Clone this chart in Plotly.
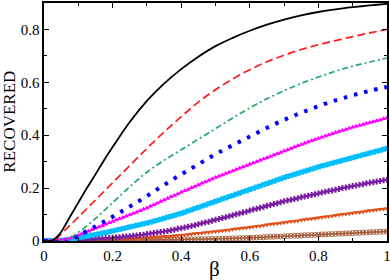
import plotly.graph_objects as go

# ---- line series (beta, recovered) ----
beta_black = [0, 0.02, 0.03, 0.04, 0.05, 0.075, 0.1, 0.125, 0.15, 0.175, 0.2, 0.25, 0.3, 0.35, 0.4, 0.45,
              0.5, 0.55, 0.6, 0.65, 0.7, 0.75, 0.8, 0.85, 0.9, 0.95, 1.0]
rec_black = [0, 0.0, 0.007, 0.018, 0.034, 0.09, 0.145, 0.2, 0.252, 0.305, 0.355, 0.45, 0.53, 0.595, 0.65, 0.697,
             0.737, 0.768, 0.795, 0.818, 0.837, 0.853, 0.866, 0.876, 0.884, 0.891, 0.897]

beta_red = [0, 0.03, 0.04, 0.05, 0.075, 0.1, 0.15, 0.2, 0.25, 0.3, 0.35, 0.4, 0.45, 0.5, 0.55, 0.6, 0.65,
            0.7, 0.75, 0.8, 0.85, 0.9, 0.95, 1.0]
rec_red = [0, 0.003, 0.012, 0.027, 0.058, 0.09, 0.155, 0.22, 0.285, 0.35, 0.412, 0.47, 0.525, 0.572, 0.613,
           0.648, 0.678, 0.703, 0.724, 0.742, 0.758, 0.773, 0.787, 0.80]

beta_green = [0, 0.06, 0.075, 0.1, 0.15, 0.2, 0.25, 0.3, 0.35, 0.4, 0.45, 0.5, 0.55, 0.6, 0.65, 0.7, 0.75,
              0.8, 0.85, 0.9, 0.95, 1.0]
rec_green = [0, 0.0, 0.01, 0.032, 0.085, 0.145, 0.205, 0.26, 0.305, 0.345, 0.385, 0.425, 0.465, 0.503, 0.538,
             0.568, 0.596, 0.62, 0.642, 0.661, 0.677, 0.692]

beta_blue = [0, 0.075, 0.1, 0.15, 0.2, 0.25, 0.3, 0.35, 0.4, 0.45, 0.5, 0.55, 0.6, 0.65, 0.7, 0.75, 0.8,
             0.85, 0.9, 0.95, 1.0]
rec_blue = [0, 0.0, 0.02, 0.055, 0.092, 0.13, 0.17, 0.212, 0.252, 0.29, 0.328, 0.362, 0.395, 0.428, 0.458,
            0.485, 0.51, 0.532, 0.551, 0.568, 0.583]

# ---- marker series, beta = 0, 0.01, ..., 1.00 ----
beta_grid = [i / 100 for i in range(101)]

rec_magenta = [0, 0.000, 0.000, 0.001, 0.002, 0.003, 0.005, 0.008, 0.012, 0.017,
               0.022, 0.027, 0.032, 0.037, 0.043, 0.048, 0.053, 0.058, 0.063, 0.069,
               0.074, 0.079, 0.084, 0.089, 0.094, 0.099, 0.104, 0.109, 0.114, 0.120,
               0.125, 0.131, 0.137, 0.143, 0.149, 0.155, 0.161, 0.167, 0.172, 0.178,
               0.184, 0.190, 0.195, 0.201, 0.206, 0.212, 0.218, 0.223, 0.229, 0.234,
               0.240, 0.245, 0.250, 0.255, 0.260, 0.265, 0.270, 0.275, 0.280, 0.285,
               0.290, 0.295, 0.300, 0.305, 0.310, 0.315, 0.320, 0.325, 0.330, 0.335,
               0.340, 0.345, 0.350, 0.355, 0.360, 0.365, 0.370, 0.374, 0.379, 0.384,
               0.388, 0.392, 0.397, 0.401, 0.406, 0.410, 0.414, 0.418, 0.422, 0.426,
               0.430, 0.434, 0.437, 0.441, 0.444, 0.448, 0.451, 0.455, 0.458, 0.462,
               0.465]

rec_cyan = [0, 0.000, 0.000, 0.000, 0.001, 0.002, 0.003, 0.005, 0.007, 0.009,
            0.012, 0.014, 0.017, 0.019, 0.022, 0.024, 0.027, 0.030, 0.032, 0.035,
            0.038, 0.041, 0.044, 0.047, 0.050, 0.053, 0.056, 0.059, 0.062, 0.065,
            0.068, 0.071, 0.075, 0.078, 0.082, 0.086, 0.090, 0.093, 0.097, 0.101,
            0.105, 0.109, 0.114, 0.118, 0.123, 0.127, 0.132, 0.136, 0.141, 0.145,
            0.150, 0.154, 0.159, 0.163, 0.168, 0.172, 0.177, 0.181, 0.186, 0.190,
            0.195, 0.199, 0.204, 0.208, 0.213, 0.217, 0.222, 0.226, 0.231, 0.235,
            0.240, 0.244, 0.248, 0.252, 0.256, 0.260, 0.264, 0.268, 0.272, 0.276,
            0.280, 0.284, 0.287, 0.291, 0.294, 0.298, 0.301, 0.305, 0.308, 0.312,
            0.315, 0.319, 0.322, 0.326, 0.329, 0.333, 0.336, 0.340, 0.343, 0.347,
            0.350]

rec_purple = [0, 0.000, 0.000, 0.000, 0.001, 0.001, 0.002, 0.002, 0.003, 0.003,
              0.004, 0.005, 0.005, 0.006, 0.007, 0.008, 0.009, 0.009, 0.010, 0.011,
              0.012, 0.013, 0.014, 0.016, 0.017, 0.018, 0.020, 0.021, 0.023, 0.024,
              0.026, 0.028, 0.030, 0.032, 0.034, 0.036, 0.038, 0.041, 0.043, 0.046,
              0.048, 0.051, 0.054, 0.057, 0.060, 0.063, 0.067, 0.070, 0.073, 0.077,
              0.080, 0.083, 0.087, 0.090, 0.094, 0.097, 0.101, 0.104, 0.108, 0.111,
              0.115, 0.119, 0.122, 0.126, 0.129, 0.133, 0.136, 0.140, 0.143, 0.147,
              0.150, 0.153, 0.156, 0.159, 0.162, 0.165, 0.168, 0.171, 0.174, 0.177,
              0.180, 0.183, 0.186, 0.189, 0.191, 0.194, 0.197, 0.200, 0.202, 0.205,
              0.208, 0.210, 0.213, 0.215, 0.218, 0.220, 0.222, 0.225, 0.227, 0.230,
              0.232]

rec_orange = [0, 0, 0, 0, 0.001, 0.001, 0.001, 0.001, 0.001, 0.002,
              0.002, 0.002, 0.002, 0.003, 0.003, 0.003, 0.004, 0.004, 0.004, 0.005,
              0.005, 0.006, 0.006, 0.007, 0.008, 0.008, 0.009, 0.010, 0.010, 0.011,
              0.012, 0.013, 0.014, 0.015, 0.016, 0.017, 0.018, 0.019, 0.020, 0.021,
              0.022, 0.023, 0.025, 0.026, 0.028, 0.029, 0.030, 0.032, 0.033, 0.035,
              0.036, 0.038, 0.039, 0.041, 0.042, 0.044, 0.046, 0.047, 0.049, 0.050,
              0.052, 0.054, 0.056, 0.057, 0.059, 0.061, 0.063, 0.065, 0.066, 0.068,
              0.070, 0.072, 0.074, 0.075, 0.077, 0.079, 0.081, 0.083, 0.084, 0.086,
              0.088, 0.090, 0.092, 0.093, 0.095, 0.097, 0.099, 0.101, 0.102, 0.104,
              0.106, 0.108, 0.109, 0.111, 0.113, 0.115, 0.116, 0.118, 0.120, 0.121,
              0.123]

rec_brown = [0, 0, 0, 0, 0, 0, 0, 0.001, 0.001, 0.001,
             0.001, 0.001, 0.001, 0.001, 0.001, 0.002, 0.002, 0.002, 0.002, 0.002,
             0.002, 0.002, 0.002, 0.002, 0.002, 0.003, 0.003, 0.003, 0.003, 0.003,
             0.003, 0.003, 0.004, 0.004, 0.004, 0.004, 0.005, 0.005, 0.005, 0.005,
             0.005, 0.006, 0.006, 0.006, 0.006, 0.007, 0.007, 0.007, 0.007, 0.008,
             0.008, 0.008, 0.009, 0.009, 0.009, 0.010, 0.010, 0.011, 0.011, 0.012,
             0.012, 0.013, 0.013, 0.014, 0.014, 0.015, 0.016, 0.016, 0.017, 0.017,
             0.018, 0.019, 0.019, 0.020, 0.020, 0.021, 0.022, 0.022, 0.023, 0.023,
             0.024, 0.025, 0.025, 0.026, 0.026, 0.027, 0.028, 0.028, 0.029, 0.029,
             0.030, 0.031, 0.031, 0.032, 0.032, 0.033, 0.034, 0.034, 0.035, 0.035,
             0.036]

x_ticks = [0, 0.2, 0.4, 0.6, 0.8, 1]
x_tick_labels = ["0", "0.2", "0.4", "0.6", "0.8", "1"]
y_ticks = [0, 0.2, 0.4, 0.6, 0.8]
y_tick_labels = ["0", "0.2", "0.4", "0.6", "0.8"]

SERIF = "Liberation Serif, Times New Roman, Times, DejaVu Serif, serif"

fig = go.Figure()

def marker_trace(y, symbol, color, size, lw=0.0):
    fig.add_trace(go.Scatter(
        x=beta_grid, y=y, mode="lines+markers",
        line=dict(color=color, width=1),
        marker=dict(symbol=symbol, size=size, color=color, line=dict(color=color, width=lw)),
        showlegend=False, hoverinfo="skip"))

marker_trace(rec_brown, "circle-x-open", "#a0522d", 5, 0.8)
marker_trace(rec_orange, "triangle-down", "#e0501a", 5)
marker_trace(rec_purple, "cross", "#7a1fa2", 5)
marker_trace(rec_cyan, "square", "#00bfff", 5)
marker_trace(rec_magenta, "triangle-up", "#ff00ff", 5)

fig.add_trace(go.Scatter(x=beta_blue, y=rec_blue, mode="lines", line_shape="spline",
                         line=dict(color="#0000ff", width=4, dash="3.5px,7px"), showlegend=False, hoverinfo="skip"))
fig.add_trace(go.Scatter(x=beta_green, y=rec_green, mode="lines", line_shape="spline",
                         line=dict(color="#1fa865", width=1.7, dash="6px,3px,2px,3px"), showlegend=False, hoverinfo="skip"))
fig.add_trace(go.Scatter(x=beta_red, y=rec_red, mode="lines", line_shape="spline",
                         line=dict(color="#ff1a1a", width=1.7, dash="8px,4px"), showlegend=False, hoverinfo="skip"))
fig.add_trace(go.Scatter(x=beta_black, y=rec_black, mode="lines", line_shape="spline",
                         line=dict(color="black", width=1.8), showlegend=False, hoverinfo="skip"))

axis_common = dict(
    showline=True, linecolor="black", linewidth=1.6, mirror="ticks",
    ticks="inside", ticklen=5, tickwidth=1, tickcolor="black",
    showgrid=False, zeroline=False, automargin=False, ticklabeloverflow="allow",
    tickfont=dict(family=SERIF, size=15, color="black"),
    minor=dict(ticks="inside", ticklen=3, tickwidth=1, tickcolor="black", dtick=0.1, showgrid=False),
)

fig.update_xaxes(range=[0, 1], tickvals=x_ticks, ticktext=x_tick_labels, **axis_common)
fig.update_yaxes(range=[0, 0.9], tickvals=y_ticks, ticktext=y_tick_labels, **axis_common)

fig.add_annotation(text="β", xref="paper", yref="paper", x=0.497, y=-0.118,
                   xanchor="center", yanchor="middle", showarrow=False,
                   font=dict(family=SERIF, size=21, color="black"))
fig.add_annotation(text="RECOVERED", xref="paper", yref="paper", x=-0.103, y=0.5,
                   xanchor="center", yanchor="middle", textangle=-90, showarrow=False,
                   font=dict(family=SERIF, size=17, color="black"))

fig.update_layout(width=390, height=280, margin=dict(l=44, r=3, t=3, b=39),
                  plot_bgcolor="white", paper_bgcolor="white", hovermode=False)

fig.write_html("out.html", config={"displayModeBar": False, "staticPlot": True},
               post_script="document.body.style.margin='0';document.body.style.overflow='hidden';")
